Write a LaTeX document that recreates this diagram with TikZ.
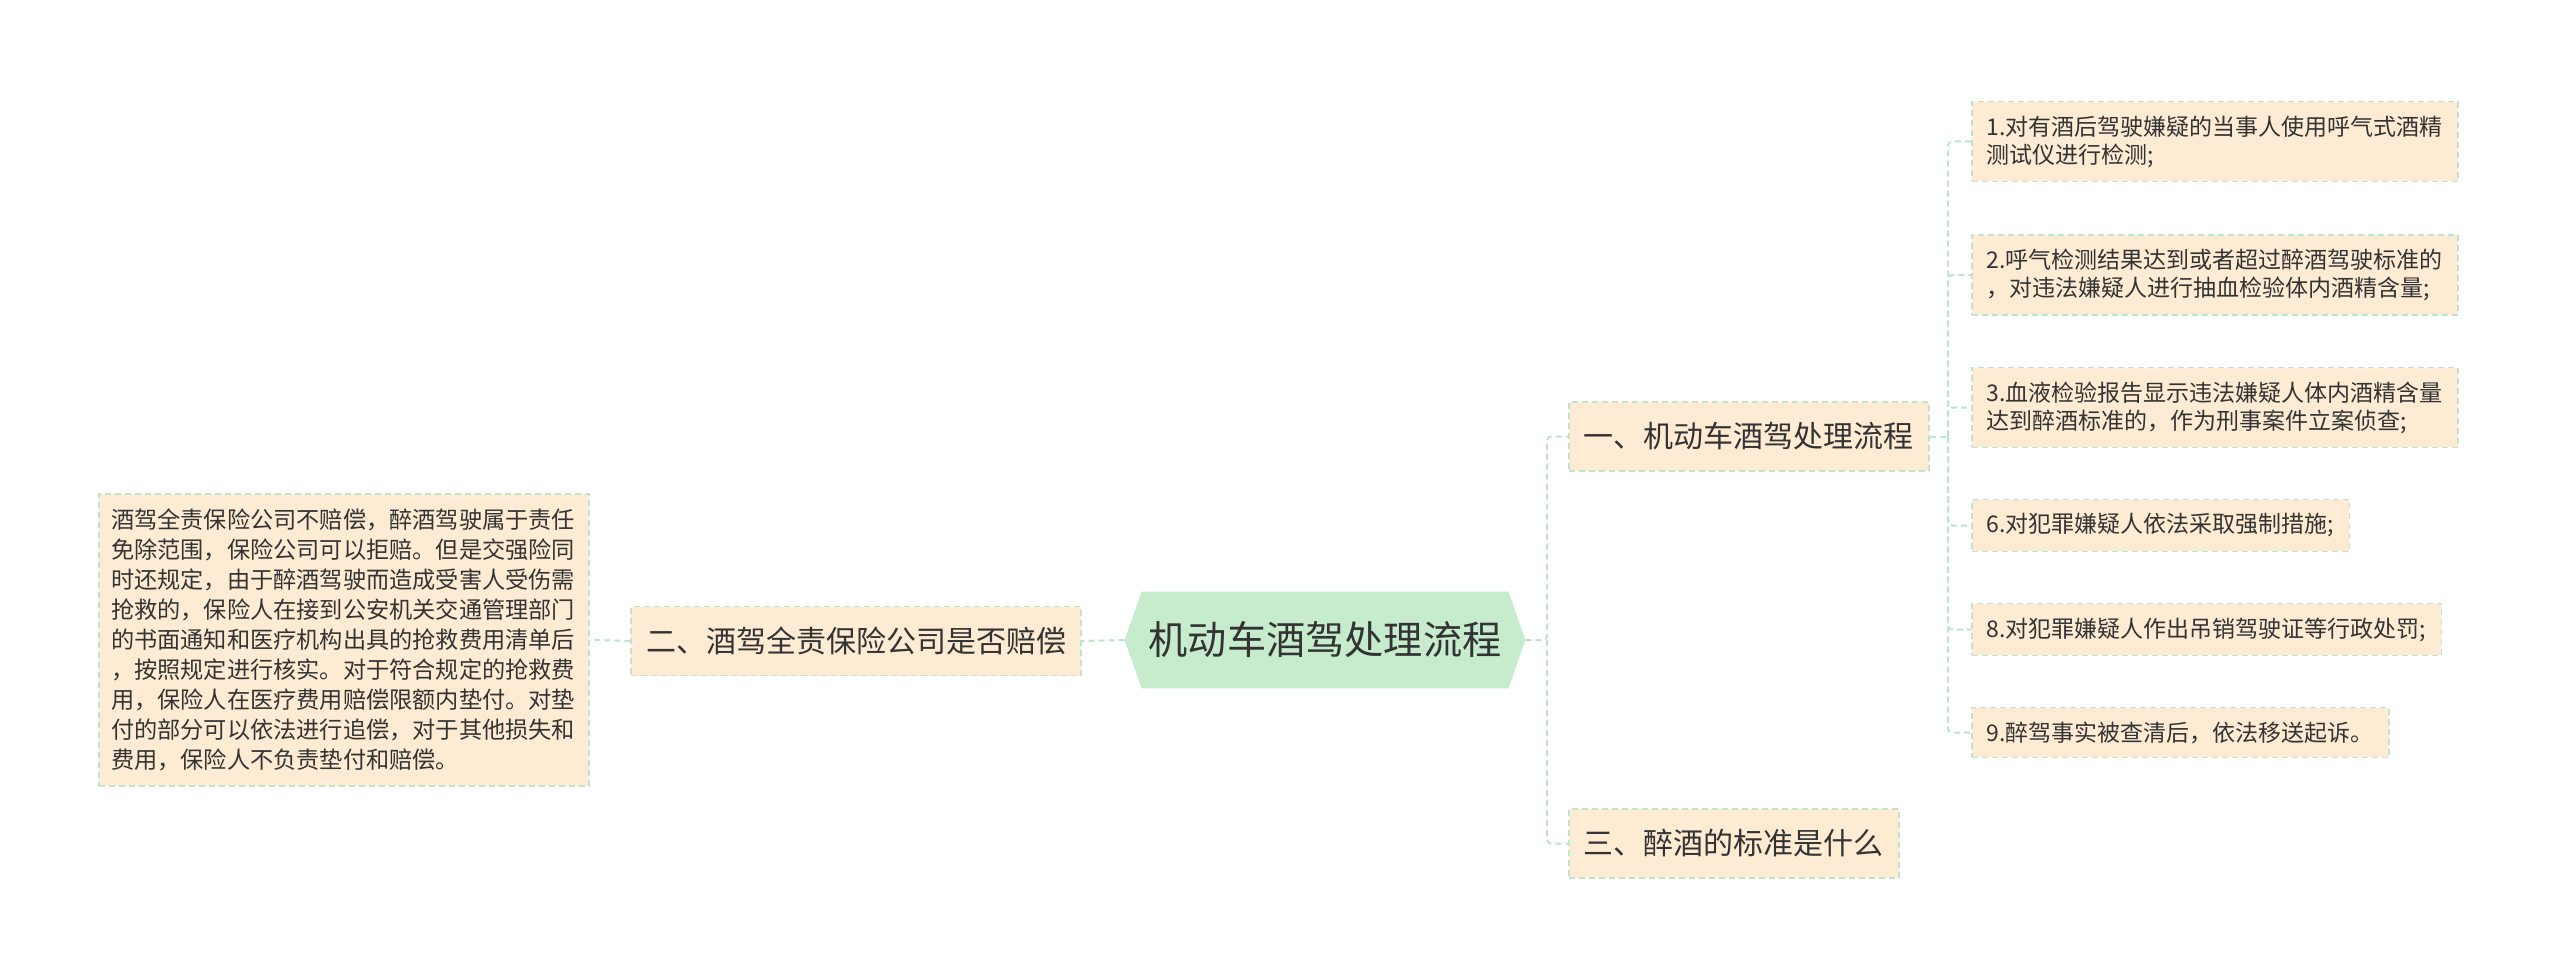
\documentclass[tikz,border=0pt]{standalone}
\usepackage{fontspec}
\setmainfont{Noto Sans CJK SC}
\usetikzlibrary{backgrounds}

\definecolor{leafpeach}{HTML}{FDEBD3}
\definecolor{linegreen}{HTML}{BFE3CB}
\definecolor{rootgreen}{HTML}{C6EBCD}
\definecolor{textgray}{HTML}{333333}

\begin{document}
\begin{tikzpicture}[x=0.5pt, y=-0.5pt,
rootbox/.style={rectangle, minimum width=200pt, minimum height=48pt,
  text=textgray, font=\fontsize{19.6}{24}\selectfont, inner sep=0pt},
%
topic/.style={rectangle, fill=leafpeach, draw=linegreen, line width=0.8pt,
  dash pattern=on 3pt off 2pt, text=textgray, inner xsep=7.5pt,
  minimum height=34.5pt, font=\fontsize{15}{18}\selectfont},
%
leaf/.style={rectangle, fill=leafpeach, draw=linegreen, line width=0.8pt,
  dash pattern=on 3pt off 2pt, text=textgray, align=left, inner xsep=7.5pt,
  inner ysep=7pt, font=\fontsize{11.5}{14}\selectfont},
%
link/.style={draw=linegreen, line width=1pt, dash pattern=on 3pt off 2pt,
  rounded corners=2pt}]

\useasboundingbox (0,0) rectangle (2560,979);

\begin{scope}
  %%%%%%%%%%%%%%%%%%%%%%%%%%%%%%
  \node [rootbox] (root) at (1325,640) {机动车酒驾处理流程};
  %%%%%%%%%%%%%%%%%%%%%%%%%%%%%%
  \node [topic, anchor=west] (proc) at (1568,436.5) {一、机动车酒驾处理流程};
  \node [topic, anchor=east] (insur) at (1082,641) {二、酒驾全责保险公司是否赔偿};
  \node [topic, anchor=west] (norm) at (1568,843.5) {三、醉酒的标准是什么};
  %%%%%%%%%%%%%%%%%%%%%%%%%%%%%%
  \node [leaf, anchor=west] (step1) at (1971,141.5)
  {1.对有酒后驾驶嫌疑的当事人使用呼气式酒精\\测试仪进行检测;};
  \node [leaf, anchor=west] (step2) at (1971,275)
  {2.呼气检测结果达到或者超过醉酒驾驶标准的\\，对违法嫌疑人进行抽血检验体内酒精含量;};
  \node [leaf, anchor=west] (step3) at (1971,407.5)
  {3.血液检验报告显示违法嫌疑人体内酒精含量\\达到醉酒标准的，作为刑事案件立案侦查;};
  \node [leaf, anchor=west] (step6) at (1971,525.5) {6.对犯罪嫌疑人依法采取强制措施;};
  \node [leaf, anchor=west] (step8) at (1971,629.5) {8.对犯罪嫌疑人作出吊销驾驶证等行政处罚;};
  \node [leaf, anchor=west] (step9) at (1971,732.5) {9.醉驾事实被查清后，依法移送起诉。};
  %%%%%%%%%%%%%%%%%%%%%%%%%%%%%%
  \node [leaf, text width=233pt, minimum height=146pt, inner xsep=6pt,
  font=\fontsize{11.6}{15}\selectfont] (detail) at (344,640)
  {酒驾全责保险公司不赔偿，醉酒驾驶属于责任\\
    免除范围，保险公司可以拒赔。但是交强险同\\
    时还规定，由于醉酒驾驶而造成受害人受伤需\\
    抢救的，保险人在接到公安机关交通管理部门\\
    的书面通知和医疗机构出具的抢救费用清单后\\
    ，按照规定进行核实。对于符合规定的抢救费\\
    用，保险人在医疗费用赔偿限额内垫付。对垫\\
    付的部分可以依法进行追偿，对于其他损失和\\
    费用，保险人不负责垫付和赔偿。};
\end{scope}

\begin{scope}[on background layer]
  \fill [rootgreen] (root.west) -- ([xshift=8.5pt]root.north west)
  -- ([xshift=-8.5pt]root.north east) -- (root.east)
  -- ([xshift=-8.5pt]root.south east) -- ([xshift=8.5pt]root.south west)
  -- cycle;
\end{scope}

\begin{scope}
  \coordinate (rtrunk) at (1547,640);
  \coordinate (ltrunk) at (1948,436.5);
  %%%%%%%%%%%%%%%%%%%%%%%%%%%%%%
  \draw [link] (root.west) -- (insur.east);
  \draw [link] (insur.west) -- (detail.east);
  \draw [link] (root.east) -- (rtrunk) |- (proc.west);
  \draw [link] (rtrunk) |- (norm.west);
  %%%%%%%%%%%%%%%%%%%%%%%%%%%%%%
  \draw [link] (proc.east) -- (ltrunk);
  \foreach \s in {step1, step2, step3, step6, step8, step9}
  \draw [link] (ltrunk) |- (\s.west);
\end{scope}

\end{tikzpicture}
\end{document}
